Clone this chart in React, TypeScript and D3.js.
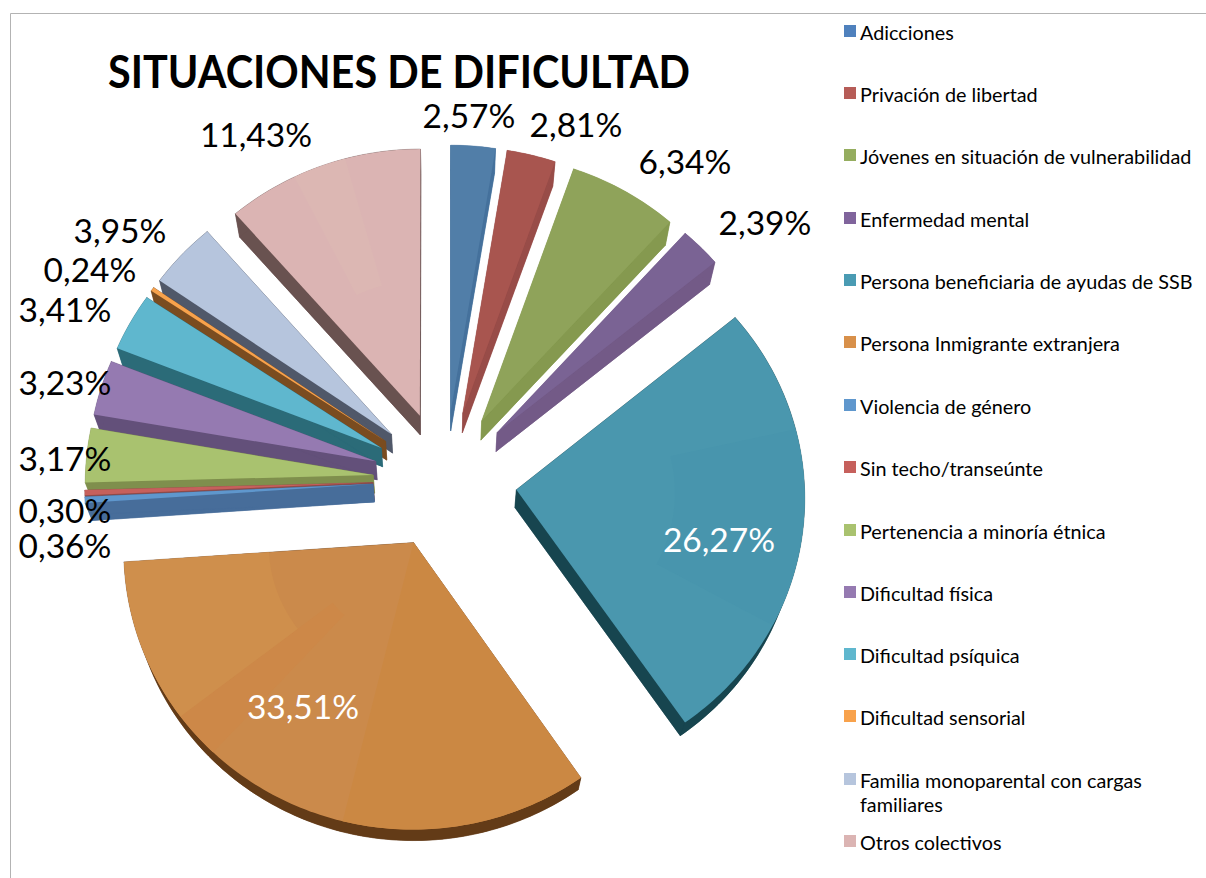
import React from 'react';
import * as d3 from 'd3';

const width = 1206;
const height = 878;

const categories = [
  'Adicciones',
  'Privación de libertad',
  'Jóvenes en situación de vulnerabilidad',
  'Enfermedad mental',
  'Persona beneficiaria de ayudas de SSB',
  'Persona Inmigrante extranjera',
  'Violencia de género',
  'Sin techo/transeúnte',
  'Pertenencia a minoría étnica',
  'Dificultad física',
  'Dificultad psíquica',
  'Dificultad sensorial',
  'Familia monoparental con cargas familiares',
  'Otros colectivos',
];
const values = [2.57, 2.81, 6.34, 2.39, 26.27, 33.51, 0.36, 0.3, 3.17, 3.23, 3.41, 0.24, 3.95, 11.43];

const faceColors = [
  '#517ea8', '#a8554f', '#8fa35a', '#7a6394', '#4a97ae', '#cb8a4b', '#5f97cd',
  '#c6605c', '#a9c26f', '#957ab1', '#5fb7ce', '#f8a24c', '#b6c5dd', '#dbb4b3',
];
const sideColors = [
  '#45719c', '#984c48', '#85994f', '#735a87', '#17454f', '#633b17', '#476d9a',
  '#8f4a48', '#7f8f4d', '#63507a', '#2b6b78', '#7a4c20', '#505869', '#695250',
];
const legendColors = [
  '#4f81bd', '#b65c57', '#95ad5f', '#80649c', '#4a9bb3', '#d8904a', '#5f97cd',
  '#c6605c', '#a9c26f', '#957ab1', '#5fb7ce', '#f8a24c', '#b6c5dd', '#dbb4b3',
];

// subtle shading patches on the big slices: slice index, share of the slice,
// share of the radius where the patch starts, tint
const shadeSlice = [5, 5, 5, 4, 13];
const shadeFrom = [0, 0.64, 0.72, 0.28, 0.35];
const shadeTo = [0.4, 0.72, 1, 0.72, 0.62];
const shadeInner = [0, 0.35, 0.5, 0.55, 0.5];
const shadeTint = ['#cb8843', '#cd8848', '#cf8f4c', '#4895ad', '#dcb7b3'];

// label centre x, baseline y
const labelPos: [number, number][] = [
  [469, 128], [576, 137], [685, 174], [765, 235], [719, 552], [303, 719], [65, 558],
  [65, 523], [65, 471], [65, 395], [65, 322], [90, 282], [120, 243], [256, 147],
];
const legendRows = [33, 95, 157, 220, 282, 344, 407, 469, 532, 594, 656, 718, 781, 843];

const font = 'Lato, "Open Sans", sans-serif';
const cx = 445;
const cy = 480;
const radius = 288;
const tilt = 0.96;
const perspective = 8.75e-5;
const explode = 72;
const depth = 18;
const bottomScale = 0.98;

// back to front: left side going down, then the right side
const paintOrder = [13, 12, 11, 10, 9, 8, 7, 6, 0, 1, 2, 3, 4, 5];

type Pt = [number, number];

// plane coords (y down) to screen, nearer parts come out a little bigger
const project = ([X, Y]: Pt): Pt => {
  const w = 1 / (1 - perspective * Y);
  return [cx + X * w, cy + Y * tilt * w];
};
const lower = ([x, y]: Pt): Pt => [cx + (x - cx) * bottomScale, cy + (y - cy) * bottomScale + depth];

const line = d3.line<Pt>();
const closed = (pts: Pt[]) => (line(pts) as string) + 'Z';

function arcPoints(a0: number, a1: number, mid: number, r: number) {
  const ox = explode * Math.sin(mid);
  const oy = -explode * Math.cos(mid);
  const n = Math.max(2, Math.ceil(((a1 - a0) * 180) / Math.PI));
  return d3.range(n + 1).map((i) => {
    const a = a0 + ((a1 - a0) * i) / n;
    return project([ox + r * Math.sin(a), oy - r * Math.cos(a)]);
  });
}

export default function App() {
  const pie = d3.pie<number>().sort(null)(values);

  return (
    <svg width={width} height={height} style={{ position: 'absolute', left: 0, top: 0 }} fontFamily={font}>
      <line x1={10.5} y1={13.5} x2={width} y2={13.5} stroke="#b3b3b3" />
      <line x1={10.5} y1={13.5} x2={10.5} y2={height} stroke="#b3b3b3" />

      {paintOrder.map((i) => {
        const d = pie[i];
        const mid = (d.startAngle + d.endAngle) / 2;
        const span = d.endAngle - d.startAngle;
        const arc = arcPoints(d.startAngle, d.endAngle, mid, radius);
        const apex = arcPoints(d.startAngle, d.endAngle, mid, 0)[0];
        const lowApex = lower(apex);
        const lowArc = arc.map(lower);
        const last = arc.length - 1;
        const walls = [
          closed([lowApex, ...lowArc]),
          closed([apex, arc[0], lowArc[0], lowApex]),
          closed([apex, arc[last], lowArc[last], lowApex]),
          closed([...arc, ...lowArc.slice().reverse()]),
        ];
        return (
          <g key={i}>
            {walls.map((w, j) => (
              <path key={j} d={w} fill={sideColors[i]} stroke={sideColors[i]} strokeWidth={0.4} />
            ))}
            <path d={closed([apex, ...arc])} fill={faceColors[i]} />
            {shadeSlice.map((s, j) => {
              if (s !== i) return null;
              const a0 = d.startAngle + span * shadeFrom[j];
              const a1 = d.startAngle + span * shadeTo[j];
              const outer = arcPoints(a0, a1, mid, radius);
              const inner = arcPoints(a0, a1, mid, radius * shadeInner[j]).reverse();
              return <path key={j} d={closed([...outer, ...inner])} fill={shadeTint[j]} />;
            })}
          </g>
        );
      })}

      <text x={108} y={88} fontSize={46} fontWeight={700} fill="#000" textLength={582} lengthAdjust="spacingAndGlyphs">
        SITUACIONES DE DIFICULTAD
      </text>

      {values.map((v, i) => (
        <text
          key={i}
          x={labelPos[i][0]}
          y={labelPos[i][1]}
          textAnchor="middle"
          fontSize={33.5}
          fill={i === 4 || i === 5 ? '#fff' : '#000'}
        >
          {v.toFixed(2).replace('.', ',')}%
        </text>
      ))}

      {categories.map((c, i) => {
        const y = legendRows[i];
        const wrap = c.startsWith('Familia');
        return (
          <g key={c}>
            <rect x={844} y={y - 8} width={12} height={12} fill={legendColors[i]} />
            {wrap ? (
              <text x={860} y={y + 7} fontSize={19.8} fill="#000">
                <tspan>Familia monoparental con cargas</tspan>
                <tspan x={860} dy={23.5}>familiares</tspan>
              </text>
            ) : (
              <text x={860} y={y + 7} fontSize={19.8} fill="#000">{c}</text>
            )}
          </g>
        );
      })}
    </svg>
  );
}
